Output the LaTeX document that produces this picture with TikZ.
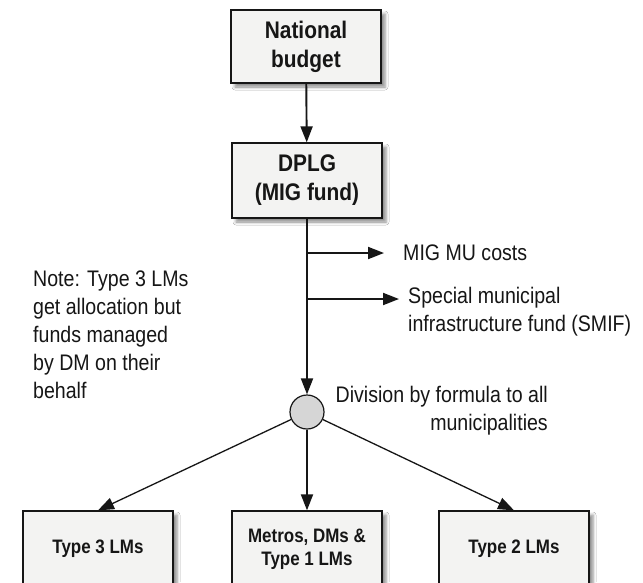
\documentclass[tikz,border=0pt]{standalone}
\usepackage{fontspec}
\setmainfont{Liberation Sans}[FakeStretch=0.87]
\usetikzlibrary{arrows.meta,shadows.blur}
\definecolor{txt}{HTML}{161616}
\definecolor{boxfill}{HTML}{F3F3F2}
\definecolor{circfill}{HTML}{D6D6D6}
\tikzset{
  box/.style={draw=txt, line width=1.3pt, fill=boxfill, minimum width=150pt, align=center,
    text=txt, font=\bfseries\fontsize{24}{29}\selectfont,
    blur shadow={shadow xshift=4pt, shadow yshift=-4pt, shadow blur radius=3pt, shadow opacity=45}},
  lowbox/.style={box, minimum height=76pt, font=\bfseries\fontsize{19.5}{23}\selectfont},
  label/.style={text=txt, font=\fontsize{22.5}{28}\selectfont, inner sep=0pt},
  tip/.style={-{Triangle[length=16pt,width=12pt]}},
  mainline/.style={draw=txt, line width=1.9pt},
  thinline/.style={draw=txt, line width=1.3pt},
}
\begin{document}
\begin{tikzpicture}[x=1pt,y=-1pt]
\useasboundingbox (0,0) rectangle (643,582);
\clip (0,0) rectangle (643,582);
\fill[white] (0,0) rectangle (643,582);
% top boxes
\node[box, minimum height=73pt] (nat) at (306,46.5) {National\\budget};
\node[box, minimum height=75pt] (dplg) at (307,180.5) {DPLG\\(MIG fund)};
\draw[mainline, tip] (nat) -- (dplg);
% branch points
\coordinate (b1) at (307,253);
\coordinate (b2) at (307,299);
\node[circle, draw=txt, line width=1.2pt, fill=circfill, minimum size=34pt, inner sep=0pt] (circ) at (307,412) {};
\draw[mainline, tip] (dplg.south) -- (circ);
% side labels
\node[label, anchor=west, inner xsep=0pt] (mig) at (403,253) {MIG MU costs};
\node[label, anchor=north west, align=left] (smif) at (408,287) {Special municipal\\infrastructure fund (SMIF)};
\draw[mainline, tip] (b1) -- ([xshift=-19pt]mig.west);
\draw[mainline, tip] (b2) -- ([xshift=-9pt]smif.west |- b2);
\node[label, anchor=north west, align=left] (note) at (33,271) {Note: Type 3 LMs\\get allocation but\\funds managed\\by DM on their\\behalf};
\node[label, anchor=east, align=right] (div) at (548,411) {Division by formula to all\\municipalities};
% bottom boxes
\node[lowbox] (t3) at (98,549) {Type 3 LMs};
\node[lowbox] (mid) at (307,549) {Metros, DMs \&\\Type 1 LMs};
\node[lowbox] (t2) at (514,549) {Type 2 LMs};
\draw[thinline, tip] (circ) -- (t3.north);
\draw[mainline, tip] (circ) -- (mid.north);
\draw[thinline, tip] (circ) -- (t2.north);
\end{tikzpicture}
\end{document}
